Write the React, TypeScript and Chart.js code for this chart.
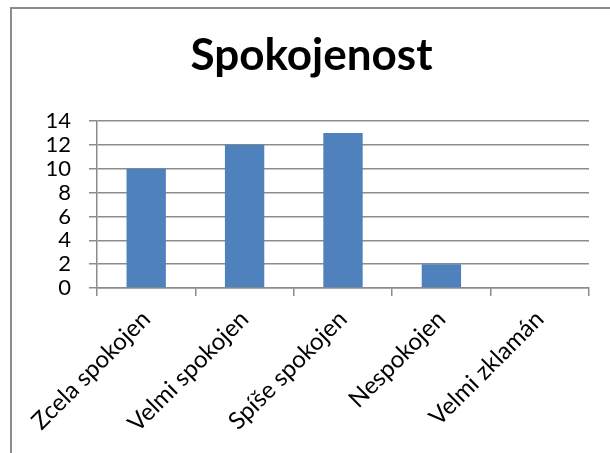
import React, { useEffect, useRef } from "react";
import { Chart, registerables } from "chart.js";

Chart.register(...registerables);

const categories = ["Zcela spokojen", "Velmi spokojen", "Spíše spokojen", "Nespokojen", "Velmi zklamán"];
const values = [10, 12, 13, 2, 0];
const chartTitle = "Spokojenost";
const yMin = 0;
const yMax = 14;
const yStep = 2;

export default function App() {
  const ref = useRef<HTMLCanvasElement | null>(null);

  useEffect(() => {
    document.body.style.margin = "0";
    document.body.style.overflow = "hidden";
    const ctx = ref.current!;
    const chart = new Chart(ctx, {
      type: "bar",
      data: {
        labels: categories,
        datasets: [
          {
            data: values,
            backgroundColor: "#4F81BD",
            borderWidth: 0,
            categoryPercentage: 1,
            barPercentage: 0.4,
          },
        ],
      },
      options: {
        animation: false,
        responsive: false,
        maintainAspectRatio: false,
        layout: { padding: { left: 34, right: 21, top: 0, bottom: 0 } },
        plugins: {
          legend: { display: false },
          tooltip: { enabled: false },
          title: {
            display: true,
            text: chartTitle,
            color: "#000",
            font: { family: "Lato", size: 44, weight: "bold" },
            padding: { top: 29, bottom: 39.2 },
          },
        },
        scales: {
          x: {
            offset: true,
            grid: {
              offset: true,
              drawOnChartArea: false,
              drawTicks: true,
              tickLength: 8,
              color: "#8c8c8c",
              lineWidth: 1.5,
            },
            border: { color: "#8c8c8c", width: 1.5 },
            ticks: {
              minRotation: 45,
              maxRotation: 45,
              autoSkip: false,
              color: "#000",
              padding: 9,
              font: { family: "Lato", size: 24 },
            },
            afterFit: (s: any) => {
              s.height = 165;
            },
          },
          y: {
            min: yMin,
            max: yMax,
            grid: { color: "#8c8c8c", lineWidth: 1.5, tickLength: 8 },
            border: { color: "#8c8c8c", width: 1.5 },
            ticks: {
              stepSize: yStep,
              autoSkip: false,
              color: "#000",
              padding: 18,
              font: { family: "Lato", size: 22 },
            },
            afterFit: (s: any) => {
              s.width = 63;
            },
          },
        },
      },
    });
    return () => chart.destroy();
  }, []);

  return (
    <div style={{ position: "relative", width: 610, height: 453, overflow: "hidden", background: "#fff" }}>
      <div
        style={{
          position: "absolute",
          left: 10,
          top: 7,
          width: 700,
          height: 600,
          border: "2px solid #8c8c8c",
          boxSizing: "border-box",
        }}
      />
      <canvas ref={ref} width={610} height={453} style={{ position: "absolute", left: 0, top: 0 }} />
    </div>
  );
}
